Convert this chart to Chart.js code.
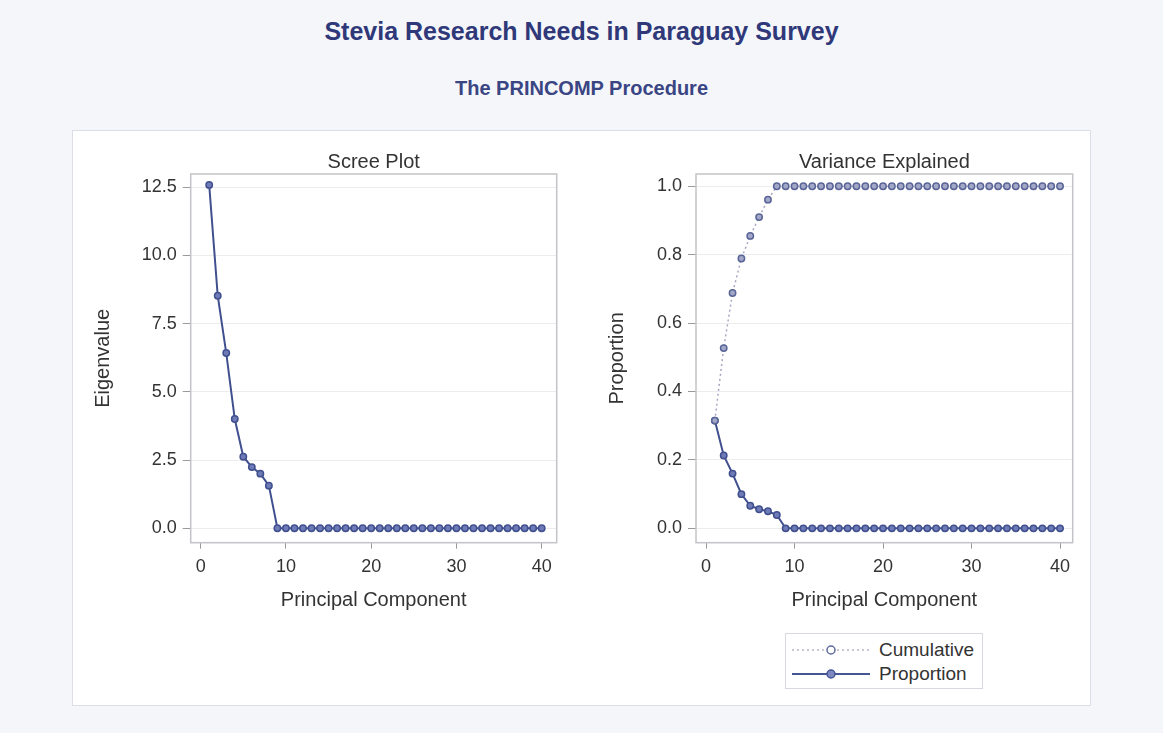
<!DOCTYPE html>
<html>
<head>
<meta charset="utf-8">
<script src="https://cdn.jsdelivr.net/npm/chart.js@4.4.1/dist/chart.umd.min.js"></script>
<style>
    body { margin: 0; width: 1163px; height: 733px; background: #f5f6fa; font-family: "Liberation Sans", Arial, sans-serif; position: relative; overflow: hidden; }
    .title { position: absolute; left: 0; width: 1163px; text-align: center; font-weight: bold; }
    #mainTitle { top: 17px; font-size: 25px; color: #2f3879; }
    #subTitle { top: 77px; font-size: 20px; color: #3a4583; }
    #panel { position: absolute; left: 72px; top: 130px; width: 1017px; height: 574px; background: #fff; border: 1px solid #dcdde6; }
    .box { position: absolute; }
    #screeBox { left: 80px; top: 148px; width: 490px; height: 472px; }
    #varBox { left: 590px; top: 148px; width: 495px; height: 472px; }
    #legend { position: absolute; left: 785px; top: 633px; width: 196px; height: 54px; border: 1px solid #d8d9e0; background: #fff; }
    .row { position: absolute; left: 4px; height: 24px; font-size: 19px; color: #333; line-height: 24px; }
    .row svg { position: absolute; left: 0; top: 2px; }
    .row span { position: absolute; left: 89px; top: 0; white-space: nowrap; }
</style>
</head>
<body>
<div id="mainTitle" class="title">Stevia Research Needs in Paraguay Survey</div>
<div id="subTitle" class="title">The PRINCOMP Procedure</div>
<div id="panel"></div>
<div id="screeBox" class="box"><canvas id="screeChart"></canvas></div>
<div id="varBox" class="box"><canvas id="varChart"></canvas></div>
<div id="legend">
    <div class="row" style="top:4px">
        <svg width="82" height="20"><line x1="2" y1="10" x2="80" y2="10" stroke="#b4b6cc" stroke-width="1.5" stroke-dasharray="2,3"/><circle cx="41" cy="10" r="4" fill="#fff" stroke="#5e6a9e" stroke-width="1.5"/></svg>
        <span>Cumulative</span>
    </div>
    <div class="row" style="top:28px">
        <svg width="82" height="20"><line x1="2" y1="10" x2="80" y2="10" stroke="#445694" stroke-width="2"/><circle cx="41" cy="10" r="4" fill="#7d89c0" stroke="#445694" stroke-width="1.5"/></svg>
        <span>Proportion</span>
    </div>
</div>
<script>
    // principal component numbers
    const components = [1, 2, 3, 4, 5, 6, 7, 8, 9, 10, 11, 12, 13, 14, 15, 16, 17, 18, 19, 20,
        21, 22, 23, 24, 25, 26, 27, 28, 29, 30, 31, 32, 33, 34, 35, 36, 37, 38, 39, 40];

    // values
    const eigenvalues = [12.58, 8.52, 6.42, 4.0, 2.62, 2.24, 2.0, 1.56, 0, 0, 0, 0, 0, 0, 0, 0, 0, 0, 0, 0,
        0, 0, 0, 0, 0, 0, 0, 0, 0, 0, 0, 0, 0, 0, 0, 0, 0, 0, 0, 0];
    const proportion = [0.315, 0.213, 0.16, 0.1, 0.066, 0.056, 0.05, 0.039, 0, 0, 0, 0, 0, 0, 0, 0, 0, 0, 0, 0,
        0, 0, 0, 0, 0, 0, 0, 0, 0, 0, 0, 0, 0, 0, 0, 0, 0, 0, 0, 0];
    const cumulative = [0.315, 0.527, 0.688, 0.789, 0.855, 0.91, 0.961, 1, 1, 1, 1, 1, 1, 1, 1, 1, 1, 1, 1, 1,
        1, 1, 1, 1, 1, 1, 1, 1, 1, 1, 1, 1, 1, 1, 1, 1, 1, 1, 1, 1];

    // tick labels
    const xTicks = [0, 10, 20, 30, 40];
    const eigenTicks = [0, 2.5, 5, 7.5, 10, 12.5];
    const propTicks = [0, 0.2, 0.4, 0.6, 0.8, 1.0];

    const font = "'Liberation Sans', Arial, sans-serif";
    const toPoints = vals => components.map((c, i) => ({ x: c, y: vals[i] }));

    // gray frame around the plot area
    const frame = {
        id: "frame",
        beforeDatasetsDraw(chart) {
            const a = chart.chartArea;
            const ctx = chart.ctx;
            ctx.save();
            ctx.strokeStyle = "#c4c4c8";
            ctx.lineWidth = 1.5;
            ctx.strokeRect(a.left, a.top, a.right - a.left, a.bottom - a.top);
            ctx.restore();
        }
    };

    function makeOptions(cfg) {
        return {
            responsive: true,
            maintainAspectRatio: false,
            animation: false,
            layout: { padding: { top: 0, right: cfg.right, bottom: 0, left: 0 } },
            plugins: {
                legend: { display: false },
                tooltip: { enabled: false },
                title: {
                    display: true, text: cfg.title, fullSize: false, color: "#333",
                    font: { family: font, size: 20, weight: "normal", lineHeight: 1 },
                    padding: { top: 4, bottom: 2 }
                }
            },
            scales: {
                x: {
                    type: "linear", min: cfg.xMin, max: cfg.xMax,
                    afterBuildTicks: s => { s.ticks = xTicks.map(v => ({ value: v })); },
                    afterFit: s => { s.height = cfg.xHeight; },
                    grid: { drawOnChartArea: false, tickLength: 6, tickColor: "#9a9a9a" },
                    border: { display: false },
                    ticks: { color: "#333", padding: 8, font: { family: font, size: 18 } },
                    title: {
                        display: true, text: "Principal Component", color: "#333",
                        font: { family: font, size: 20, lineHeight: 1.2 },
                        padding: { top: 0, bottom: 8 }
                    }
                },
                y: {
                    min: cfg.yMin, max: cfg.yMax,
                    afterBuildTicks: s => { s.ticks = cfg.yTicks.map(v => ({ value: v })); },
                    afterFit: s => { s.width = cfg.yWidth; },
                    grid: { color: "#ececec", tickLength: 8, tickColor: "#9a9a9a" },
                    border: { display: false },
                    ticks: {
                        color: "#333", padding: 6, font: { family: font, size: 18 },
                        callback: v => v.toFixed(1)
                    },
                    title: {
                        display: true, text: cfg.yTitle, color: "#333",
                        font: { family: font, size: 20, lineHeight: 1.2 },
                        padding: { top: cfg.yTitlePad, bottom: 0 }
                    }
                }
            }
        };
    }

    new Chart(document.getElementById("screeChart"), {
        type: "line",
        data: {
            datasets: [{
                label: "Eigenvalue",
                data: toPoints(eigenvalues),
                borderColor: "#40508f",
                borderWidth: 2,
                pointRadius: 3.2,
                pointBackgroundColor: "#6f7bb6",
                pointBorderColor: "#40508f",
                pointBorderWidth: 1.5,
                tension: 0
            }]
        },
        options: makeOptions({
            title: "Scree Plot", yTitle: "Eigenvalue",
            xMin: -1.17, xMax: 41.76, yMin: -0.53, yMax: 12.98,
            yTicks: eigenTicks, yWidth: 110.7, xHeight: 77.3, right: 13.3, yTitlePad: 11
        }),
        plugins: [frame]
    });

    new Chart(document.getElementById("varChart"), {
        type: "line",
        data: {
            datasets: [{
                label: "Cumulative",
                data: toPoints(cumulative),
                borderColor: "#a4a6c2",
                borderWidth: 1.5,
                borderDash: [2, 3],
                pointRadius: 3.2,
                pointBackgroundColor: "#a3a8c8",
                pointBorderColor: "#5a6698",
                pointBorderWidth: 1.5,
                tension: 0
            }, {
                label: "Proportion",
                data: toPoints(proportion),
                borderColor: "#40508f",
                borderWidth: 2,
                pointRadius: 3.2,
                pointBackgroundColor: "#6f7bb6",
                pointBorderColor: "#40508f",
                pointBorderWidth: 1.5,
                tension: 0
            }]
        },
        options: makeOptions({
            title: "Variance Explained", yTitle: "Proportion",
            xMin: -1.13, xMax: 41.43, yMin: -0.042, yMax: 1.036,
            yTicks: propTicks, yWidth: 106, xHeight: 77.3, right: 12.3, yTitlePad: 15
        }),
        plugins: [frame]
    });
</script>
</body>
</html>
